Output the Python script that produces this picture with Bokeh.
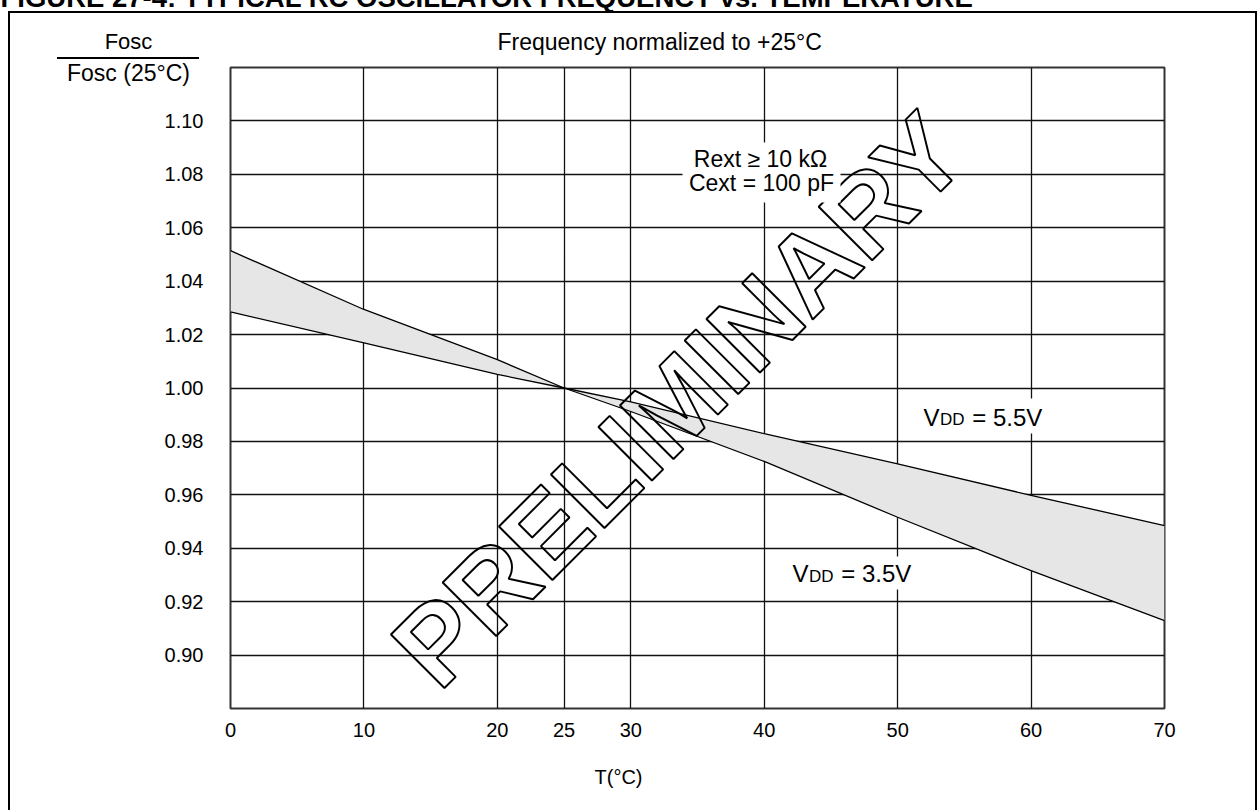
from bokeh.plotting import figure
from bokeh.models import FixedTicker, Label, BoxAnnotation, Range1d, CustomJSTickFormatter, InlineStyleSheet
from bokeh.core.properties import value
from bokeh.embed import file_html
from bokeh.resources import INLINE
import math

# ---------------- data ----------------
temp_c = [0, 10, 20, 25, 30, 40, 50, 60, 70]
vdd_35 = [1.0514, 1.0294, 1.0106, 1.0000, 0.9912, 0.9725, 0.9516, 0.9316, 0.9129]
vdd_55 = [1.0285, 1.0169, 1.0051, 1.0000, 0.9948, 0.9829, 0.9716, 0.9598, 0.9485]
x_ticks = [0, 10, 20, 25, 30, 40, 50, 60, 70]
x_grid = [10, 20, 25, 30, 40, 50, 60]
y_ticks = [0.90, 0.92, 0.94, 0.96, 0.98, 1.00, 1.02, 1.04, 1.06, 1.08, 1.10]

FONT = "Liberation Sans"

# frame geometry in canvas pixels
W, H = 1257, 810
FL, FR, FT, FB = 230, 1164, 67, 708
X0, X1, Y0, Y1 = 0, 70, 0.88, 1.12


def px(xp):
    return X0 + (xp - FL) / (FR - FL) * (X1 - X0)


def py(yp):
    return Y1 - (yp - FT) / (FB - FT) * (Y1 - Y0)


css = """
:host { overflow: hidden; }
:host::before { content: ""; position: absolute; left: 8px; top: 10.5px; width: 1248.5px; height: 1000px;
  border: 2px solid black; box-sizing: border-box; pointer-events: none; z-index: 5; }
:host::after { content: ""; position: absolute; left: 57px; top: 56.5px; width: 142px; height: 2px;
  background: black; pointer-events: none; z-index: 5; }
"""

p = figure(width=W, height=H, x_range=Range1d(X0, X1), y_range=Range1d(Y0, Y1),
           output_backend="svg", toolbar_location=None,
           min_border_left=FL, min_border_right=W - FR,
           min_border_top=FT, min_border_bottom=H - FB)
p.stylesheets = [InlineStyleSheet(css=css)]
p.background_fill_color = "white"
p.border_fill_color = "white"
p.outline_line_color = "#333333"
p.outline_line_width = 2

# axes
p.xaxis.ticker = FixedTicker(ticks=x_ticks)
p.yaxis.ticker = FixedTicker(ticks=y_ticks)
p.yaxis.formatter = CustomJSTickFormatter(code="return tick.toFixed(2);")
for ax in (p.xaxis[0], p.yaxis[0]):
    ax.axis_line_color = None
    ax.major_tick_line_color = None
    ax.minor_tick_line_color = None
    ax.major_tick_out = 0
    ax.major_label_text_font = FONT
    ax.major_label_text_font_size = "20px"
    ax.major_label_text_color = "black"
p.xaxis.major_label_standoff = 14
p.yaxis.major_label_standoff = 27

# grid
p.xgrid.ticker = FixedTicker(ticks=x_grid)
p.ygrid.ticker = FixedTicker(ticks=y_ticks)
for g in (p.xgrid[0], p.ygrid[0]):
    g.grid_line_color = "#111111"
    g.grid_line_width = 1.3
    g.grid_line_alpha = 1.0

# band + lines
p.varea(x=temp_c, y1=vdd_35, y2=vdd_55, fill_color="#e6e6e6")
p.line(temp_c, vdd_35, line_color="black", line_width=1.3)
p.line(temp_c, vdd_55, line_color="black", line_width=1.3)

# watermark (outlined text)
p.text(x=[px(678)], y=[py(399)], text=["PRELIMINARY"], angle=math.pi / 4,
       text_align="center", text_baseline="middle",
       text_font=value(FONT), text_font_style="bold", text_font_size="110px",
       text_color=(255, 255, 255, 0.0), text_outline_color="black")

# white masks behind in-plot annotations
for (l, r, t, b) in [(682, 840, 142, 202), (918, 1046, 398, 433), (787, 913, 556, 589)]:
    p.add_layout(BoxAnnotation(left=px(l), right=px(r), top=py(t), bottom=py(b),
                               fill_color="white", fill_alpha=1.0, line_color=None))


def lab(text, xp, yp, size, align="left", dx=0, place="center", style="normal"):
    p.add_layout(Label(x=px(xp), y=py(yp), x_offset=dx, text=text, text_font=FONT,
                       text_font_size=f"{size}px", text_align=align, text_font_style=style,
                       text_baseline="middle", text_color="black"), place)


lab("Rext \u2265 10 k\u03a9", 760, 158.5, 23, align="center")
lab("Cext = 100 pF", 761, 182, 23, align="center")

for xs, yc, txt in [(923, 416.7, "= 5.5V"), (792, 573.3, "= 3.5V")]:
    lab("V", xs, yc, 24)
    lab("DD", xs, yc + 2.2, 17, dx=16.5)
    lab(txt, xs, yc, 24, dx=48.7)

# labels outside the frame (placed in side panels so they are not clipped)
lab("Frequency normalized to +25\u00b0C", 497, 41.5, 23, place="above")
lab("Fosc", 128, 40.8, 22, align="center", place="above")
lab("Fosc (25\u00b0C)", 128, 72, 23, align="center", place="left")
lab("T(\u00b0C)", 618, 776, 20, align="center", place="below")
lab("FIGURE 27-4:   TYPICAL RC OSCILLATOR FREQUENCY vs. TEMPERATURE", 0, -3, 27.5,
    place="below", style="bold")

open("out.html", "w").write(file_html(p, INLINE))
